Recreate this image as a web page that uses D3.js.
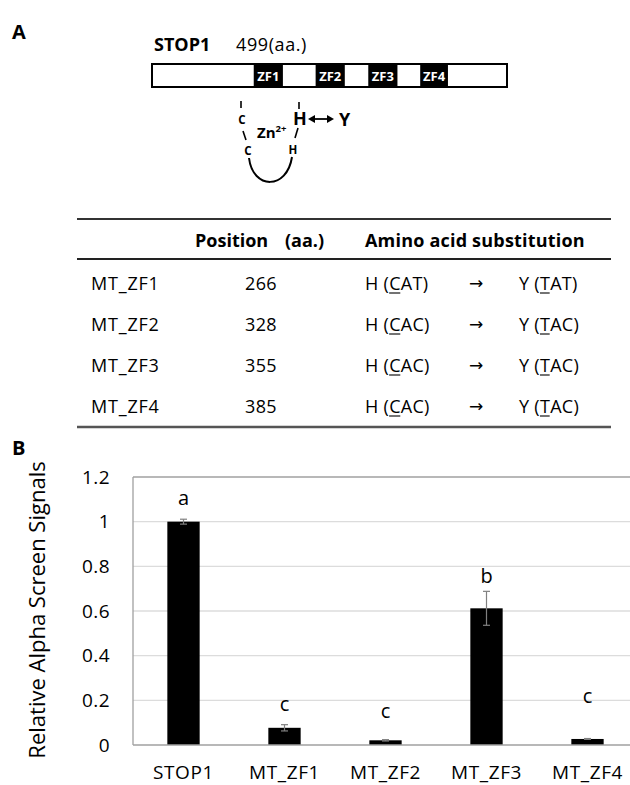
<!DOCTYPE html>
<html>
<head>
<meta charset="utf-8">
<script src="https://cdn.jsdelivr.net/npm/d3@7/dist/d3.min.js"></script>
<style>
html,body{margin:0;padding:0;background:#fff;}
svg{display:block;font-family:"Open Sans",sans-serif;}
</style>
</head>
<body>
<svg id="chart" width="630" height="785"></svg>
<script>
// ---------- Panel A data ----------
const proteinName = "STOP1";
const proteinLength = 499;
const zfNames = ["ZF1", "ZF2", "ZF3", "ZF4"];
const zfStart = [143, 230, 304, 377];
const zfEnd = [184, 271, 345, 416];

const tableHeaders = ["Position", "(aa.)", "Amino acid substitution"];
const mutants = ["MT_ZF1", "MT_ZF2", "MT_ZF3", "MT_ZF4"];
const positions = [266, 328, 355, 385];
const fromCodons = ["CAT", "CAC", "CAC", "CAC"];
const toCodons = ["TAT", "TAC", "TAC", "TAC"];

// ---------- Panel B data ----------
const categories = ["STOP1", "MT_ZF1", "MT_ZF2", "MT_ZF3", "MT_ZF4"];
const values = [1.0, 0.077, 0.021, 0.612, 0.027];
const errors = [0.011, 0.014, 0.003, 0.076, 0.002];
const sigLetters = ["a", "c", "c", "b", "c"];
const letterPos = [1.075, 0.152, 0.121, 0.725, 0.188];
const yTicks = [0, 0.2, 0.4, 0.6, 0.8, 1, 1.2];
const yTickLabels = ["0", "0.2", "0.4", "0.6", "0.8", "1", "1.2"];
const yLabel = "Relative Alpha Screen Signals";

const svg = d3.select("#chart");

// ================= Panel A =================
svg.append("text").attr("x", 12).attr("y", 39).attr("font-size", 20).attr("font-weight", 700).text("A");

svg.append("text").attr("x", 154).attr("y", 51).attr("font-size", 18).attr("font-weight", 700).text(proteinName);
svg.append("text").attr("x", 236).attr("y", 51).attr("font-size", 18).attr("letter-spacing", 0.6).text(proteinLength + "(aa.)");

const xGene = d3.scaleLinear().domain([0, proteinLength]).range([152, 507]);
const barTop = 64, barH = 23;
svg.append("rect").attr("x", xGene(0)).attr("y", barTop).attr("width", xGene(proteinLength) - xGene(0)).attr("height", barH)
  .attr("fill", "#fff").attr("stroke", "#000").attr("stroke-width", 2);
const zf = svg.append("g");
zfNames.forEach((n, i) => {
  zf.append("rect").attr("x", xGene(zfStart[i])).attr("y", barTop).attr("width", xGene(zfEnd[i]) - xGene(zfStart[i])).attr("height", barH).attr("fill", "#000");
  zf.append("text").attr("x", (xGene(zfStart[i]) + xGene(zfEnd[i])) / 2).attr("y", barTop + barH / 2 + 5)
    .attr("text-anchor", "middle").attr("font-size", 13).attr("font-weight", 700).attr("fill", "#fff").text(n);
});

// zinc finger schematic
const zg = svg.append("g").attr("font-weight", 700);
zg.append("line").attr("x1", 241).attr("x2", 241).attr("y1", 101).attr("y2", 108).attr("stroke", "#000").attr("stroke-width", 1.6);
zg.append("text").attr("x", 242).attr("y", 123.5).attr("text-anchor", "middle").attr("font-size", 11.5).text("C");
zg.append("line").attr("x1", 243).attr("x2", 246).attr("y1", 131).attr("y2", 140).attr("stroke", "#000").attr("stroke-width", 1.6);
zg.append("text").attr("x", 248).attr("y", 154.5).attr("text-anchor", "middle").attr("font-size", 11.5).text("C");
const zn = zg.append("text").attr("x", 257).attr("y", 138).attr("font-size", 15);
zn.append("tspan").text("Zn");
zn.append("tspan").attr("font-size", 9.5).attr("dy", -6).text("2+");
zg.append("line").attr("x1", 299).attr("x2", 299).attr("y1", 102).attr("y2", 109).attr("stroke", "#000").attr("stroke-width", 1.6);
zg.append("text").attr("x", 300).attr("y", 125).attr("text-anchor", "middle").attr("font-size", 18).text("H");
zg.append("line").attr("x1", 298).attr("x2", 295).attr("y1", 128).attr("y2", 138).attr("stroke", "#000").attr("stroke-width", 1.6);
zg.append("text").attr("x", 293).attr("y", 153.5).attr("text-anchor", "middle").attr("font-size", 11.5).text("H");
zg.append("path").attr("d", "M249,158 C253,190 287,190 292,157").attr("fill", "none").attr("stroke", "#000").attr("stroke-width", 2);
// double arrow
zg.append("line").attr("x1", 312).attr("x2", 330).attr("y1", 119).attr("y2", 119).attr("stroke", "#000").attr("stroke-width", 1.8);
zg.append("path").attr("d", "M308,119 L315,115 L315,123 Z").attr("fill", "#000");
zg.append("path").attr("d", "M334,119 L327,115 L327,123 Z").attr("fill", "#000");
zg.append("text").attr("x", 339).attr("y", 126).attr("font-size", 18).text("Y");

// table
const tX0 = 77, tX1 = 611;
const tg = svg.append("g");
tg.append("line").attr("x1", tX0).attr("x2", tX1).attr("y1", 219).attr("y2", 219).attr("stroke", "#333").attr("stroke-width", 2.2);
tg.append("line").attr("x1", tX0).attr("x2", tX1).attr("y1", 259).attr("y2", 259).attr("stroke", "#222").attr("stroke-width", 2);
tg.append("line").attr("x1", tX0).attr("x2", tX1).attr("y1", 427).attr("y2", 427).attr("stroke", "#555").attr("stroke-width", 2.4);
tg.append("text").attr("x", 195).attr("y", 247).attr("font-size", 18).attr("font-weight", 700).text(tableHeaders[0]);
tg.append("text").attr("x", 285).attr("y", 247).attr("font-size", 18).attr("font-weight", 700).text(tableHeaders[1]);
tg.append("text").attr("x", 365).attr("y", 247).attr("font-size", 18).attr("font-weight", 700).attr("letter-spacing", 0.2).text(tableHeaders[2]);

const rowY = d3.scalePoint().domain(mutants).range([290, 413]);
function underlinedText(g, x, y, aa, codon) {
  const t = g.append("text").attr("x", x).attr("y", y).attr("font-size", 18).attr("letter-spacing", 0.3).text(aa + " (" + codon + ")");
  const node = t.node();
  const s = node.getStartPositionOfChar(3).x, e = node.getEndPositionOfChar(3).x;
  g.append("line").attr("x1", s).attr("x2", e - 0.5).attr("y1", y + 3).attr("y2", y + 3).attr("stroke", "#000").attr("stroke-width", 1.1);
}
mutants.forEach((m, i) => {
  const y = rowY(m);
  tg.append("text").attr("x", 91).attr("y", y).attr("font-size", 18).attr("letter-spacing", 0.8).text(m);
  tg.append("text").attr("x", 261).attr("y", y).attr("text-anchor", "middle").attr("font-size", 18).attr("letter-spacing", 0.4).text(positions[i]);
  underlinedText(tg, 365, y, "H", fromCodons[i]);
  tg.append("text").attr("x", 476).attr("y", y - 1).attr("text-anchor", "middle").attr("font-size", 17)
    .attr("font-family", "DejaVu Sans, sans-serif").text("\u2192");
  underlinedText(tg, 519, y, "Y", toCodons[i]);
});

// ================= Panel B =================
svg.append("text").attr("x", 12).attr("y", 455).attr("font-size", 20).attr("font-weight", 700).text("B");

const x = d3.scaleBand().domain(categories).range([133, 638]).paddingInner(0.68).paddingOuter(0.34);
const y = d3.scaleLinear().domain([0, 1.2]).range([745, 477]);

// gridlines
svg.append("g").selectAll("line").data(yTicks.filter(d => d > 0 && d < 1.2)).join("line")
  .attr("x1", 133).attr("x2", 630).attr("y1", d => y(d)).attr("y2", d => y(d))
  .attr("stroke", "#dcdcdc").attr("stroke-width", 1.3);

// plot area border (top & left)
svg.append("line").attr("x1", 133).attr("x2", 630).attr("y1", y(1.2)).attr("y2", y(1.2)).attr("stroke", "#a0a0a0").attr("stroke-width", 1.3);
svg.append("line").attr("x1", 133).attr("x2", 133).attr("y1", y(1.2)).attr("y2", y(0)).attr("stroke", "#a0a0a0").attr("stroke-width", 1.3);

// y axis labels
const yAxis = d3.axisLeft(y).tickValues(yTicks).tickFormat((d, i) => yTickLabels[i]).tickSize(0).tickPadding(0);
const ya = svg.append("g").attr("transform", "translate(110,0)").call(yAxis);
ya.select(".domain").remove();
ya.selectAll("text").attr("font-size", 19).attr("font-family", "Open Sans, sans-serif").attr("fill", "#000").attr("letter-spacing", 0.4);

// bars
svg.append("g").selectAll("rect").data(categories).join("rect")
  .attr("x", d => x(d)).attr("width", x.bandwidth())
  .attr("y", (d, i) => y(values[i])).attr("height", (d, i) => y(0) - y(values[i]))
  .attr("fill", "#000");

// baseline axis
const xAxis = d3.axisBottom(x).tickSize(0).tickPadding(0);
const xa = svg.append("g").attr("transform", `translate(0,${y(0)})`).call(xAxis);
xa.select(".domain").attr("stroke", "#a0a0a0").attr("stroke-width", 1.5).attr("d", `M133,0H630`);
xa.selectAll("text").attr("font-size", 19).attr("font-family", "Open Sans, sans-serif").attr("fill", "#000")
  .attr("letter-spacing", 0.6).attr("dy", null).attr("y", 34);

// error bars
const eg = svg.append("g").attr("stroke", "#808080").attr("stroke-width", 1.2);
categories.forEach((c, i) => {
  const cx = x(c) + x.bandwidth() / 2;
  const y1 = y(values[i] + errors[i]), y2 = y(values[i] - errors[i]);
  eg.append("line").attr("x1", cx).attr("x2", cx).attr("y1", y1).attr("y2", y2);
  eg.append("line").attr("x1", cx - 3.5).attr("x2", cx + 3.5).attr("y1", y1).attr("y2", y1);
  eg.append("line").attr("x1", cx - 3.5).attr("x2", cx + 3.5).attr("y1", y2).attr("y2", y2);
});

// significance letters
svg.append("g").selectAll("text").data(categories).join("text")
  .attr("x", d => x(d) + x.bandwidth() / 2).attr("y", (d, i) => y(letterPos[i]))
  .attr("text-anchor", "middle").attr("font-size", 20).text((d, i) => sigLetters[i]);

// y label
svg.append("text").attr("transform", "translate(45,610) rotate(-90)").attr("text-anchor", "middle")
  .attr("font-size", 22).text(yLabel);
</script>
</body>
</html>
